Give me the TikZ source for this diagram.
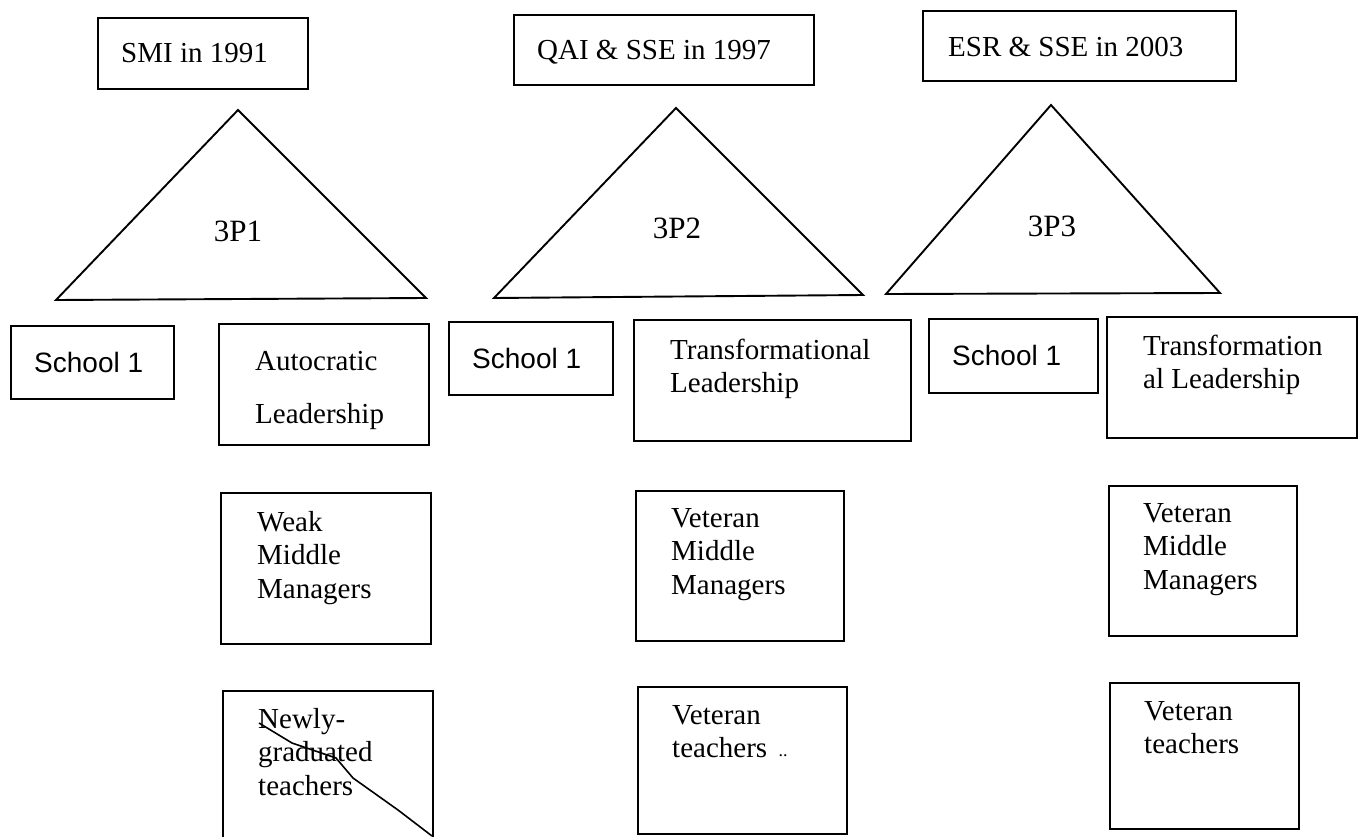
\documentclass[tikz,border=0pt]{standalone}
\usepackage{fontspec}
\setmainfont{Liberation Serif}
\newfontfamily\schoolfont{Liberation Sans}
\newcommand{\stack}[1]{\begin{tabular}[t]{@{}l@{}}#1\end{tabular}}
\begin{document}
\begin{tikzpicture}[x=1pt,y=-1pt,
  frame/.style={draw, line width=1.9pt, rectangle, inner sep=0pt, anchor=north west},
  boxtext/.style={anchor=base west, inner sep=0pt, font=\fontsize{29}{33.5}\selectfont},
  schooltext/.style={anchor=base west, inner sep=0pt, font=\schoolfont\fontsize{28}{33}\selectfont},
  peak/.style={line width=1.9pt, line join=miter},
  peaklabel/.style={inner sep=0pt, font=\fontsize{31}{36}\selectfont}]
\useasboundingbox (0,0) rectangle (1364,837);
\clip (0,0) rectangle (1364,837);

% ---- column 1: SMI in 1991 ----
\node[frame, minimum width=210pt, minimum height=71pt] (t1) at (97,17) {};
\node[boxtext] (t1txt) at (121,63) {SMI in 1991};
\coordinate (p1a) at (238,110);
\coordinate (p1l) at (56,300);
\coordinate (p1r) at (426,298);
\draw[peak] (p1a) -- (p1l) -- (p1r) -- cycle;
\node[peaklabel] (p1) at (238,231) {3P1};

\node[frame, minimum width=163pt, minimum height=73pt] (s1) at (10,325) {};
\node[schooltext] (s1txt) at (34,372) {School 1};
\node[frame, minimum width=210pt, minimum height=121pt] (l1) at (218,323) {};
\node[boxtext] (l1txt) at (255,370) {\stack{Autocratic\\[20pt]Leadership}};
\node[frame, minimum width=210pt, minimum height=151pt] (m1) at (220,492) {};
\node[boxtext] (m1txt) at (257,531) {\stack{Weak\\Middle\\Managers}};
\node[frame, minimum width=210pt, minimum height=170pt] (n1) at (222,690) {};
\node[boxtext] (n1txt) at (258,728) {\stack{Newly-\\graduated\\teachers}};
% stray pen stroke across the last box
\coordinate (slash0) at (259,723);
\coordinate (slash1) at (292,743);
\coordinate (slash2) at (336,758);
\coordinate (slash3) at (353,778);
\coordinate (slash4) at (398,810);
\coordinate (slash5) at (432,836);
\draw[line width=1.6pt, line join=round] (slash0) -- (slash1) -- (slash2) -- (slash3) -- (slash4) -- (slash5);

% ---- column 2: QAI & SSE in 1997 ----
\node[frame, minimum width=300pt, minimum height=70pt] (t2) at (513,14) {};
\node[boxtext] (t2txt) at (537,60) {QAI \& SSE in 1997};
\coordinate (p2a) at (676,108);
\coordinate (p2l) at (494,298);
\coordinate (p2r) at (863,295);
\draw[peak] (p2a) -- (p2l) -- (p2r) -- cycle;
\node[peaklabel] (p2) at (677,228) {3P2};

\node[frame, minimum width=164pt, minimum height=73pt] (s2) at (448,321) {};
\node[schooltext] (s2txt) at (472,368) {School 1};
\node[frame, minimum width=277pt, minimum height=121pt] (l2) at (633,319) {};
\node[boxtext] (l2txt) at (670,359) {\stack{Transformational\\Leadership}};
\node[frame, minimum width=208pt, minimum height=150pt] (m2) at (635,490) {};
\node[boxtext] (m2txt) at (671,527) {\stack{Veteran\\Middle\\Managers}};
\node[frame, minimum width=209pt, minimum height=147pt] (v2) at (637,686) {};
\node[boxtext] (v2txt) at (672,724) {\stack{Veteran\\teachers}};
\node[inner sep=0pt, font=\fontsize{18}{18}\selectfont] (v2mark) at (783,756) {..};

% ---- column 3: ESR & SSE in 2003 ----
\node[frame, minimum width=313pt, minimum height=70pt] (t3) at (922,10) {};
\node[boxtext] (t3txt) at (948,57) {ESR \& SSE in 2003};
\coordinate (p3a) at (1051,105);
\coordinate (p3l) at (886,294);
\coordinate (p3r) at (1220,293);
\draw[peak] (p3a) -- (p3l) -- (p3r) -- cycle;
\node[peaklabel] (p3) at (1052,226) {3P3};

\node[frame, minimum width=169pt, minimum height=74pt] (s3) at (928,318) {};
\node[schooltext] (s3txt) at (952,365) {School 1};
\node[frame, minimum width=250pt, minimum height=121pt] (l3) at (1106,316) {};
\node[boxtext] (l3txt) at (1143,355) {\stack{Transformation\\al Leadership}};
\node[frame, minimum width=188pt, minimum height=150pt] (m3) at (1108,485) {};
\node[boxtext] (m3txt) at (1143,522) {\stack{Veteran\\Middle\\Managers}};
\node[frame, minimum width=189pt, minimum height=146pt] (v3) at (1109,682) {};
\node[boxtext] (v3txt) at (1144,720) {\stack{Veteran\\teachers}};
\end{tikzpicture}
\end{document}
